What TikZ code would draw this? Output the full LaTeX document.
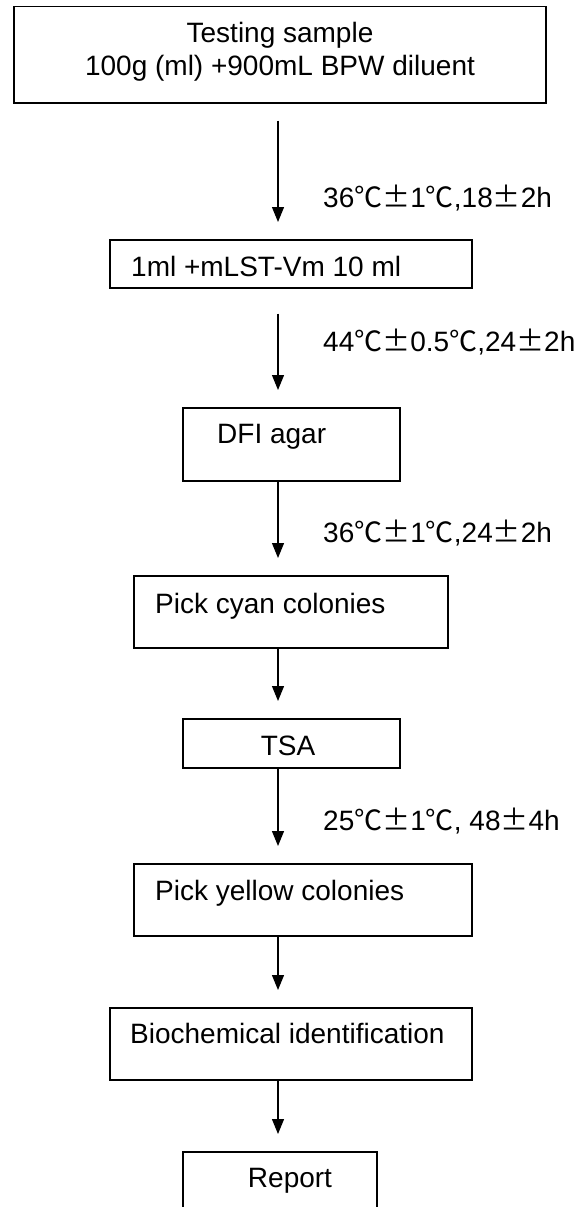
\documentclass[tikz,border=0pt]{standalone}
\usepackage{fontspec}
\setmainfont{Liberation Sans}
\newfontfamily\cjk{Noto Sans CJK SC}
\usetikzlibrary{arrows.meta}
\newcommand\dgC{\makebox[1em][c]{\cjk ℃}}
\newcommand\pmk{\makebox[1em][c]{\cjk ±}}
\tikzset{
  box/.style={draw=black, line width=1.5pt, inner sep=0pt, anchor=north west},
  txt/.style={inner sep=0pt, font=\fontsize{28}{32}\selectfont},
  arr/.style={line width=1.2pt, -{Triangle[width=12pt,length=15pt]}, shorten <=#1, shorten >=17pt},
  arr/.default=0pt
}
\begin{document}
\begin{tikzpicture}[x=1pt,y=-1pt]
\clip (0,0) rectangle (578,1207);
\fill[white] (0,0) rectangle (578,1207);
\coordinate (ax) at (278,0);
% boxes
\node[box, minimum width=532pt, minimum height=96pt] (b1) at (13,6) {};
\node[box, minimum width=362pt, minimum height=48pt] (b2) at (109,239) {};
\node[box, minimum width=217pt, minimum height=73pt] (b3) at (182,407) {};
\node[box, minimum width=314pt, minimum height=72pt] (b4) at (133,575) {};
\node[box, minimum width=217pt, minimum height=49pt] (b5) at (182,718) {};
\node[box, minimum width=338pt, minimum height=72pt] (b6) at (133,863) {};
\node[box, minimum width=362pt, minimum height=72pt] (b7) at (109,1007) {};
\node[box, minimum width=194pt, minimum height=80pt] (b8) at (182,1151) {};
% box texts
\node[txt, anchor=base] (t1a) at (280,43) {Testing sample};
\node[txt, anchor=base] (t1b) at (280,75) {100g (ml) +900mL BPW diluent};
\node[txt, anchor=base west] (t2) at (131,276) {1ml +mLST-Vm 10 ml};
\node[txt, anchor=base west] (t3) at (217,443) {DFI agar};
\node[txt, anchor=base west] (t4) at (155,613) {Pick cyan colonies};
\node[txt, anchor=base] (t5) at (288,755) {TSA};
\node[txt, anchor=base west] (t6) at (155,900) {Pick yellow colonies};
\node[txt, anchor=base west] (t7) at (130,1043) {Biochemical identification};
\node[txt, anchor=base] (t8) at (290,1187) {Report};
% condition labels
\node[txt, anchor=base west] (l1) at (323,207) {36\dgC\pmk1\dgC,18\pmk2h};
\node[txt, anchor=base west] (l2) at (323,351) {44\dgC\pmk0.5\dgC,24\pmk2h};
\node[txt, anchor=base west] (l3) at (323,542) {36\dgC\pmk1\dgC,24\pmk2h};
\node[txt, anchor=base west] (l4) at (323,830) {25\dgC\pmk1\dgC, 48\pmk4h};
% arrows
\draw[arr=17pt] (b1.south -| ax) -- (b2.north -| ax);
\draw[arr=25pt] (b2.south -| ax) -- (b3.north -| ax);
\draw[arr] (b3.south -| ax) -- (b4.north -| ax);
\draw[arr] (b4.south -| ax) -- (b5.north -| ax);
\draw[arr] (b5.south -| ax) -- (b6.north -| ax);
\draw[arr] (b6.south -| ax) -- (b7.north -| ax);
\draw[arr] (b7.south -| ax) -- (b8.north -| ax);
\end{tikzpicture}
\end{document}
